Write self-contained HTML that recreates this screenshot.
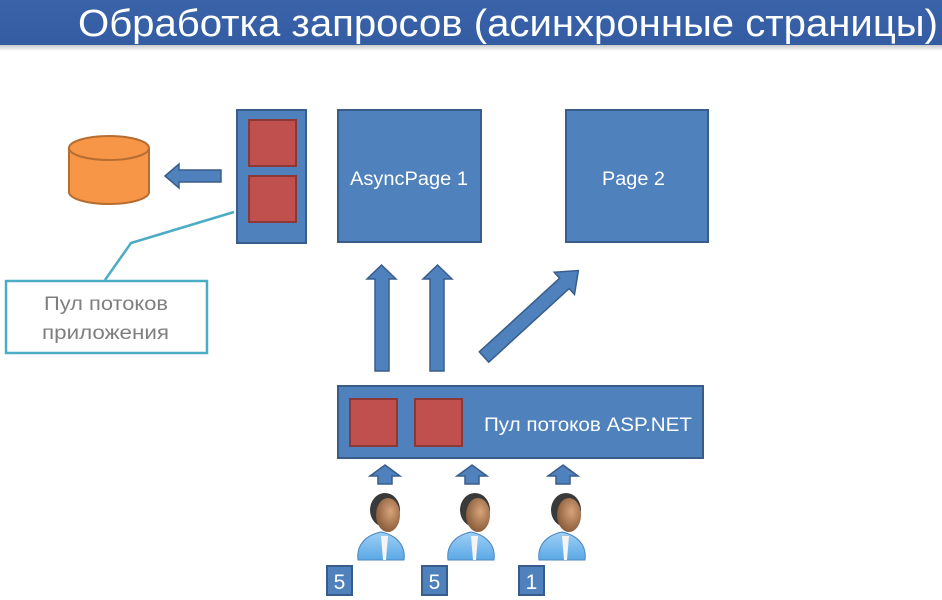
<!DOCTYPE html>
<html><head><meta charset="utf-8"><style>
html,body{margin:0;padding:0;background:#fff;}
svg{display:block;}
text{font-family:"Liberation Sans","DejaVu Sans",sans-serif;}
</style></head><body>
<svg width="942" height="600" viewBox="0 0 942 600" xmlns="http://www.w3.org/2000/svg">
<defs>
<linearGradient id="bg" x1="0" y1="0" x2="0" y2="1"><stop offset="0" stop-color="#3a63aa"/><stop offset="1" stop-color="#335ca3"/></linearGradient>
<linearGradient id="sh" x1="0" y1="0" x2="0" y2="1"><stop offset="0" stop-color="#c8c8c8"/><stop offset="1" stop-color="#fff"/></linearGradient>
<linearGradient id="body" x1="0" y1="0" x2="0" y2="1"><stop offset="0" stop-color="#9fd0f5"/><stop offset="1" stop-color="#5aa8e6"/></linearGradient>
<radialGradient id="face" cx="0.6" cy="0.4" r="0.7"><stop offset="0" stop-color="#d8a47a"/><stop offset="1" stop-color="#7e5232"/></radialGradient>
<g id="person">
<path d="M-23,70 C-25,55 -15,45 0,42 C15,45 25,55 23,70 Z" fill="url(#body)" stroke="#4a86c0" stroke-width="1"/>
<path d="M0,46 L7,46 L5,70 L2,70 Z" fill="#f4f4f4"/>
<ellipse cx="4" cy="20" rx="15" ry="17" fill="#3a3a3a"/>
<ellipse cx="7" cy="25" rx="12" ry="17" fill="url(#face)"/>
</g>
<g id="sarrow"><polygon points="0,-10 15,1 7,1 7,9 -7,9 -7,1 -15,1" fill="#4f81bd" stroke="#385d8a" stroke-width="1.5"/></g>
</defs>
<rect x="0" y="0" width="942" height="45" fill="url(#bg)"/>
<rect x="0" y="45" width="942" height="6" fill="url(#sh)"/>
<text x="78" y="36" font-size="38" fill="#fff" textLength="860" lengthAdjust="spacingAndGlyphs">Обработка запросов (асинхронные страницы)</text>

<path d="M69,148 L69,192 A40,12 0 0 0 149,192 L149,148" fill="#f79646" stroke="#b66d31" stroke-width="2"/>
<ellipse cx="109" cy="148" rx="40" ry="12" fill="#f79646" stroke="#b66d31" stroke-width="2"/>

<polygon points="165,176 179,164 179,170 221,170 221,182 179,182 179,188" fill="#4f81bd" stroke="#385d8a" stroke-width="1.5"/>

<rect x="237" y="110" width="69" height="133" fill="#4f81bd" stroke="#385d8a" stroke-width="2"/>
<rect x="249" y="120" width="47" height="46" fill="#c0504d" stroke="#8c3836" stroke-width="2"/>
<rect x="249" y="176" width="47" height="46" fill="#c0504d" stroke="#8c3836" stroke-width="2"/>

<polyline points="234,212 131,243 105,280" fill="none" stroke="#4bacc6" stroke-width="2.5"/>
<rect x="6" y="281" width="201" height="72" fill="#fff" stroke="#4bacc6" stroke-width="2.5"/>
<text x="44" y="310" font-size="19" fill="#7f7f7f" textLength="124" lengthAdjust="spacingAndGlyphs">Пул потоков</text>
<text x="42" y="339" font-size="19" fill="#7f7f7f" textLength="127" lengthAdjust="spacingAndGlyphs">приложения</text>

<rect x="338" y="110" width="143" height="132" fill="#4f81bd" stroke="#385d8a" stroke-width="2"/>
<text x="350" y="185" font-size="19" fill="#fff" textLength="118" lengthAdjust="spacingAndGlyphs">AsyncPage 1</text>
<rect x="566" y="110" width="142" height="132" fill="#4f81bd" stroke="#385d8a" stroke-width="2"/>
<text x="602" y="185" font-size="19" fill="#fff" textLength="63" lengthAdjust="spacingAndGlyphs">Page 2</text>

<polygon points="381.5,265 396,279 389,279 389,371 375,371 375,279 367,279" fill="#4f81bd" stroke="#385d8a" stroke-width="1.5"/>
<polygon points="437.5,265 452,279 444,279 444,371 430,371 430,279 423,279" fill="#4f81bd" stroke="#385d8a" stroke-width="1.5"/>
<g transform="translate(484,357) rotate(-42.5)">
<polygon points="0,-7 109,-7 109,-15 128,0 109,15 109,7 0,7" fill="#4f81bd" stroke="#385d8a" stroke-width="1.5"/>
</g>

<rect x="338" y="386" width="365" height="72" fill="#4f81bd" stroke="#385d8a" stroke-width="2"/>
<rect x="350" y="399" width="47" height="47" fill="#c0504d" stroke="#8c3836" stroke-width="2"/>
<rect x="415" y="399" width="47" height="47" fill="#c0504d" stroke="#8c3836" stroke-width="2"/>
<text x="484" y="431" font-size="19" fill="#fff" textLength="208" lengthAdjust="spacingAndGlyphs">Пул потоков ASP.NET</text>

<use href="#sarrow" x="385" y="475"/>
<use href="#sarrow" x="472" y="475"/>
<use href="#sarrow" x="563" y="475"/>

<use href="#person" x="381" y="490"/>
<use href="#person" x="471" y="490"/>
<use href="#person" x="562" y="490"/>

<rect x="327" y="566" width="25" height="29" fill="#4f81bd" stroke="#385d8a" stroke-width="2"/>
<text x="339.5" y="589" font-size="21" fill="#fff" text-anchor="middle">5</text>
<rect x="422" y="566" width="25" height="29" fill="#4f81bd" stroke="#385d8a" stroke-width="2"/>
<text x="434.5" y="589" font-size="21" fill="#fff" text-anchor="middle">5</text>
<rect x="519" y="566" width="25" height="29" fill="#4f81bd" stroke="#385d8a" stroke-width="2"/>
<text x="531.5" y="589" font-size="21" fill="#fff" text-anchor="middle">1</text>
</svg>
</body></html>
